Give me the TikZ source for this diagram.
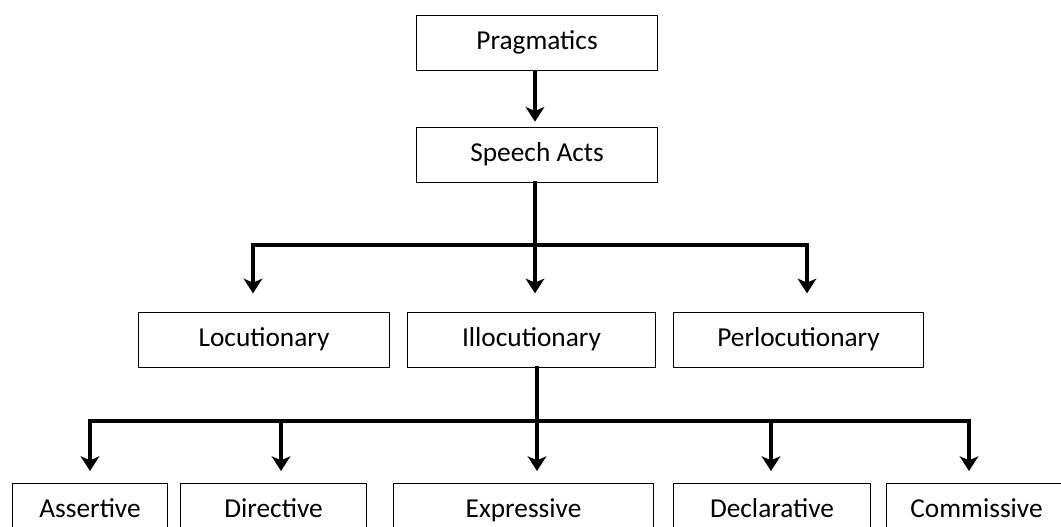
\documentclass[tikz,border=0pt]{standalone}
\usepackage{fontspec}
\setmainfont{Carlito}
\usetikzlibrary{arrows.meta}
\begin{document}
\begin{tikzpicture}[x=0.75pt,y=-0.75pt,
  box/.style={draw=black,line width=0.8pt,minimum height=41.25pt,inner sep=0pt,
    text height=14pt,text depth=4pt,
    font=\fontsize{20.5}{24}\selectfont,anchor=north west},
  link/.style={line width=2.6pt,line cap=rect},
  arr/.style={line width=2.6pt,-{Stealth[length=11pt,width=14pt,inset=3pt]}}]
\useasboundingbox (0,0) rectangle (1061,526);
\begin{scope}
\clip (0,0) rectangle (1061,526);
% top boxes
\node[box,minimum width=180.75pt] (prag) at (416,15) {Pragmatics};
\node[box,minimum width=180.75pt] (sa) at (416,127) {Speech Acts};
% level 2
\node[box,minimum width=188.25pt] (loc) at (138,312) {Locutionary};
\node[box,minimum width=186pt] (ill) at (407,312) {Illocutionary};
\node[box,minimum width=187.5pt] (per) at (673,312) {Perlocutionary};
% level 3
\node[box,minimum width=116.25pt] (ass) at (12,483) {Assertive};
\node[box,minimum width=139.5pt] (dir) at (180,483) {Directive};
\node[box,minimum width=195pt] (exp) at (393,483) {Expressive};
\node[box,minimum width=147.75pt] (dec) at (673,483) {Declarative};
\node[box,minimum width=135pt] (com) at (886,483) {Commissive};
\end{scope}
% connectors
\draw[arr,shorten >=4pt] (prag.south -| 535,0) -- (sa.north -| 535,0);
\coordinate (j1) at (535,245);
\coordinate (l1) at (253,245);
\coordinate (r1) at (807,245);
\draw[link] (sa.south -| j1) -- (j1);
\draw[link] (l1) -- (r1);
\draw[arr,shorten >=14pt] (l1) -- (l1 |- loc.north);
\draw[arr,shorten >=14pt] (j1) -- (j1 |- ill.north);
\draw[arr,shorten >=14pt] (r1) -- (r1 |- per.north);
\coordinate (j2) at (537,421);
\coordinate (a2) at (90,421);
\coordinate (b2) at (281,421);
\coordinate (d2) at (771,421);
\coordinate (e2) at (969,421);
\draw[link] (ill.south -| j2) -- (j2);
\draw[link] (a2) -- (e2);
\draw[arr,shorten >=9pt] (a2) -- (a2 |- ass.north);
\draw[arr,shorten >=9pt] (b2) -- (b2 |- dir.north);
\draw[arr,shorten >=9pt] (j2) -- (j2 |- exp.north);
\draw[arr,shorten >=9pt] (d2) -- (d2 |- dec.north);
\draw[arr,shorten >=9pt] (e2) -- (e2 |- com.north);
\end{tikzpicture}
\end{document}
